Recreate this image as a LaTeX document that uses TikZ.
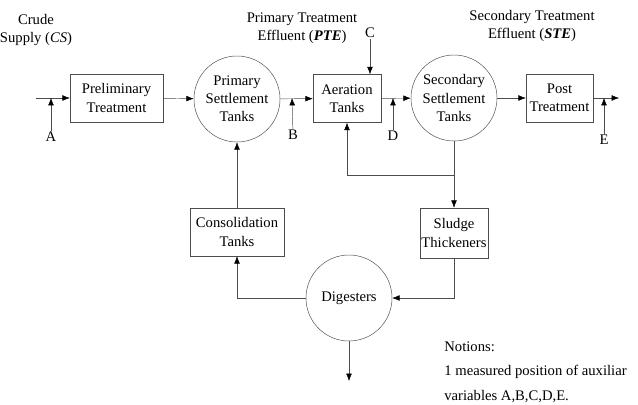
\documentclass[tikz,border=0pt]{standalone}
\usepackage{fontspec}
\setmainfont{Liberation Serif}[Ligatures=TeX]
\usetikzlibrary{arrows.meta}

\tikzset{
  unit/.style={draw=black!70, align=center, inner sep=1pt, font=\fontsize{12.5}{15.5}\selectfont},
  box/.style={unit, rectangle, minimum height=1.44cm},
  tank/.style={unit, circle, minimum size=2.58cm},
  flow/.style={draw=black!70, -{Latex[length=2.2mm,width=1.7mm,color=black]}},
  tag/.style={align=center, inner sep=1pt, font=\fontsize{12.5}{15.5}\selectfont},
}

\begin{document}
\begin{tikzpicture}[x=0.03cm, y=-0.03cm]
    \useasboundingbox (0,0) rectangle (638,405);

    % Main treatment line
    \node[box, minimum width=2.79cm] (pre) at (116.5,98) {Preliminary\\Treatment};
    \node[tank] (pst) at (237,99) {Primary\\Settlement\\Tanks};
    \node[box, minimum width=2.04cm] (aer) at (347,98.5) {Aeration\\Tanks};
    \node[tank] (sst) at (454,98) {Secondary\\Settlement\\Tanks};
    \node[box, minimum width=2.01cm] (post) at (559.5,98) {Post\\Treatment};

    % Sludge line
    \node[box, minimum width=2.82cm] (cons) at (237,232) {Consolidation\\Tanks};
    \node[box, minimum width=2.04cm, minimum height=1.5cm] (thick) at (454,233) {Sludge\\Thickeners};
    \node[tank] (dig) at (349,298) {Digesters};

    % Stream labels
    \node[tag] (cs) at (36,30) {Crude\\Supply (\textit{CS})};
    \node[tag] (pte) at (302,28) {Primary Treatment\\Effluent (\textbf{\textit{PTE}})};
    \node[tag] (ste) at (532,26) {Secondary Treatment\\Effluent (\textbf{\textit{STE}})};

    % Free ends
    \coordinate (in) at (36,98);
    \coordinate (out) at (619,98);
    \coordinate (j) at (454,175);
    \coordinate (sink) at (349,381);

    % Flows
    \draw[flow] (in) -- (pre.west);
    \draw[flow] (pre) -- (pst);
    \draw[flow] (pst) -- (aer);
    \draw[flow] (aer) -- (sst);
    \draw[flow] (sst) -- (post);
    \draw[flow] (post) -- (out);
    \draw[draw=black!70] (sst.south) -- (j);
    \draw[flow] (j) -| (aer.south);
    \draw[flow] (j) -- (thick.north);
    \draw[flow] (thick.south) |- (dig.east);
    \draw[flow] (dig.west) -| (cons.south);
    \draw[flow] (cons.north) -- (pst.south);
    \draw[flow] (dig.south) -- (sink);

    % Measured positions A--E
    \coordinate (mA) at (51,98);
    \coordinate (mB) at (292,98);
    \coordinate (mD) at (393,98);
    \coordinate (mE) at (604,98);
    \node[tag] (labA) at (51,137) {A};
    \node[tag] (labB) at (293,135) {B};
    \node[tag] (labC) at (370,33) {C};
    \node[tag] (labD) at (393,136) {D};
    \node[tag] (labE) at (604,140) {E};
    \draw[flow] (labA) -- (mA);
    \draw[flow] (labB) -- (mB);
    \draw[flow] (labC) -- (labC |- aer.north);
    \draw[flow] (labD) -- (mD);
    \draw[flow] (labE) -- (mE);

    % Notes
    \node[tag, anchor=west] (note1) at (443,347) {Notions:};
    \node[tag, anchor=west] (note2) at (443,372) {1 measured position of auxiliar};
    \node[tag, anchor=west] (note3) at (443,397) {variables A,B,C,D,E.};
\end{tikzpicture}
\end{document}
